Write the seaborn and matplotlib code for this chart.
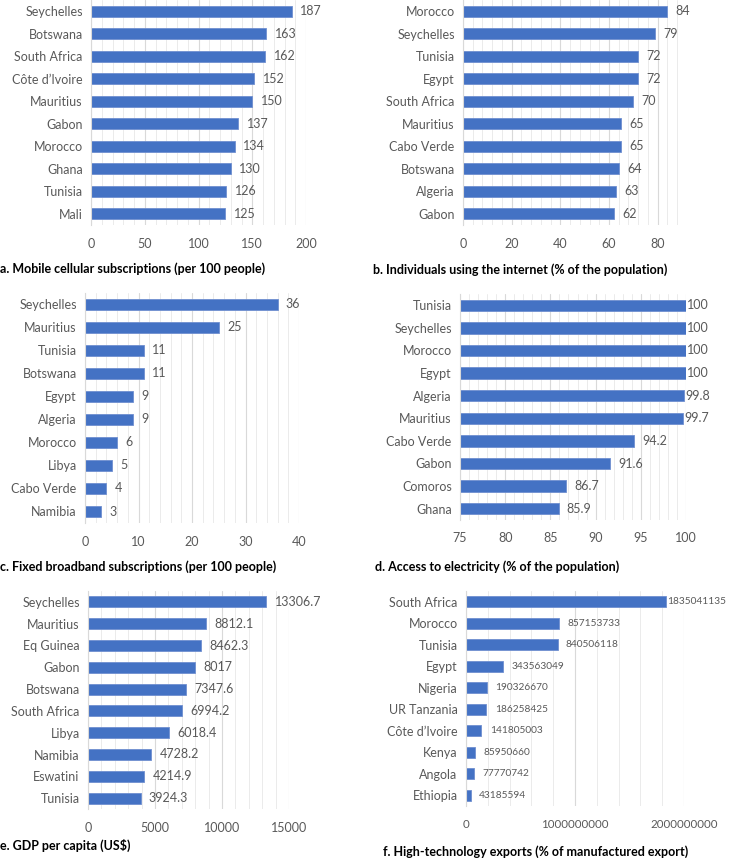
import pandas as pd
import numpy as np
import matplotlib.pyplot as plt
import seaborn as sns
from matplotlib.ticker import MultipleLocator, FixedLocator

# Data for each panel
a_countries = ["Seychelles", "Botswana", "South Africa", "Côte d’Ivoire", "Mauritius",
               "Gabon", "Morocco", "Ghana", "Tunisia", "Mali"]
a_values = [187, 163, 162, 152, 150, 137, 134, 130, 126, 125]

b_countries = ["Morocco", "Seychelles", "Tunisia", "Egypt", "South Africa",
               "Mauritius", "Cabo Verde", "Botswana", "Algeria", "Gabon"]
b_values = [84, 79, 72, 72, 70, 65, 65, 64, 63, 62]

c_countries = ["Seychelles", "Mauritius", "Tunisia", "Botswana", "Egypt",
               "Algeria", "Morocco", "Libya", "Cabo Verde", "Namibia"]
c_values = [36, 25, 11, 11, 9, 9, 6, 5, 4, 3]

d_countries = ["Tunisia", "Seychelles", "Morocco", "Egypt", "Algeria",
               "Mauritius", "Cabo Verde", "Gabon", "Comoros", "Ghana"]
d_values = [100, 100, 100, 100, 99.8, 99.7, 94.2, 91.6, 86.7, 85.9]

e_countries = ["Seychelles", "Mauritius", "Eq Guinea", "Gabon", "Botswana",
               "South Africa", "Libya", "Namibia", "Eswatini", "Tunisia"]
e_values = [13306.7, 8812.1, 8462.3, 8017, 7347.6, 6994.2, 6018.4, 4728.2, 4214.9, 3924.3]

f_countries = ["South Africa", "Morocco", "Tunisia", "Egypt", "Nigeria",
               "UR Tanzania", "Côte d’Ivoire", "Kenya", "Angola", "Ethiopia"]
f_values = [1835041135, 857153733, 840506118, 343563049, 190326670,
            186258425, 141805003, 85950660, 77770742, 43185594]

titles = ["a. Mobile cellular subscriptions (per 100 people)",
          "b. Individuals using the internet (% of the population)",
          "c. Fixed broadband subscriptions (per 100 people)",
          "d. Access to electricity (% of the population)",
          "e. GDP per capita (US$)",
          "f. High-technology exports (% of manufactured export)"]

sns.set_style("white")
plt.rcParams['font.family'] = ['Lato', 'DejaVu Sans']

W, H = 729, 858
fig = plt.figure(figsize=(W / 100, H / 100), dpi=100)

BAR = "#4472C4"
TXT = "#595959"


def px_axes(left, top, right, bottom):
    return fig.add_axes([left / W, 1 - bottom / H, (right - left) / W, (bottom - top) / H])


def fmt(v):
    return str(int(v)) if float(v).is_integer() else str(v)


# (countries, values, box, xlim, major, minor, ticks, title pos, label size, tick size, pull-in fraction)
panels = [
    (a_countries, a_values, (91, 0, 306, 225), (0, 200), 50, 10, None, (0, 269), 9, 9, 0),
    (b_countries, b_values, (463, 0, 682, 225), (0, 90), 20, 4, [0, 20, 40, 60, 80], (373, 270), 9, 9, 0),
    (c_countries, c_values, (85, 293, 299, 523), (0, 40), 10, 2, None, (0, 567), 9, 9, 0),
    (d_countries, d_values, (460, 294, 686, 520), (75, 100), 5, 1, None, (375, 567), 9, 9, 0.05),
    (e_countries, e_values, (88, 591, 289, 809), (0, 15000), 5000, 1000, None, (0, 845), 9, 9, 0),
    (f_countries, f_values, (466, 591, 684, 806), (0, 2e9), 1e9, 2e8, None, (383, 852), 7.3, 8.3, 0.1),
]

for (countries, values, box, xlim, major, minor, ticks, tpos, lsize, tsize, pull), title in zip(panels, titles):
    ax = px_axes(*box)
    df = pd.DataFrame({"country": countries, "value": values})
    sns.barplot(data=df, x="value", y="country", ax=ax, color=BAR, width=0.5,
                edgecolor="#6F8FD0", linewidth=0.6, saturation=1)
    ax.set_xlim(*xlim)
    ax.set_xlabel("")
    ax.set_ylabel("")
    if ticks is not None:
        ax.xaxis.set_major_locator(FixedLocator(ticks))
    else:
        ax.xaxis.set_major_locator(MultipleLocator(major))
    ax.xaxis.set_minor_locator(MultipleLocator(minor))
    ax.set_xticklabels([fmt(t) for t in ax.get_xticks()])
    ax.grid(axis="x", which="major", color="#D9D9D9", linewidth=0.8)
    ax.grid(axis="x", which="minor", color="#EBEBEB", linewidth=0.7)
    ax.set_axisbelow(True)
    for s in ["top", "right", "bottom"]:
        ax.spines[s].set_visible(False)
    ax.spines["left"].set_color("#D9D9D9")
    ax.tick_params(axis="both", which="both", length=0, colors=TXT, labelsize=9)
    ax.tick_params(axis="x", pad=9, labelsize=tsize)
    ax.tick_params(axis="y", pad=6)

    # value labels, pulled in when close to the axis end
    span = xlim[1] - xlim[0]
    for bar, v in zip(ax.patches, values):
        near_end = (xlim[1] - v) / span < pull
        pad = 0.5 if near_end else 6
        ax.annotate(fmt(v), (bar.get_x() + bar.get_width(), bar.get_y() + bar.get_height() / 2),
                    xytext=(pad, 0), textcoords="offset points", va="center", ha="left",
                    color=TXT, fontsize=lsize, annotation_clip=False)

    fig.text(tpos[0] / W, 1 - tpos[1] / H, title, fontsize=9, fontweight="bold",
             color="black", va="center", ha="left")

fig.savefig("out.png", dpi=100)
